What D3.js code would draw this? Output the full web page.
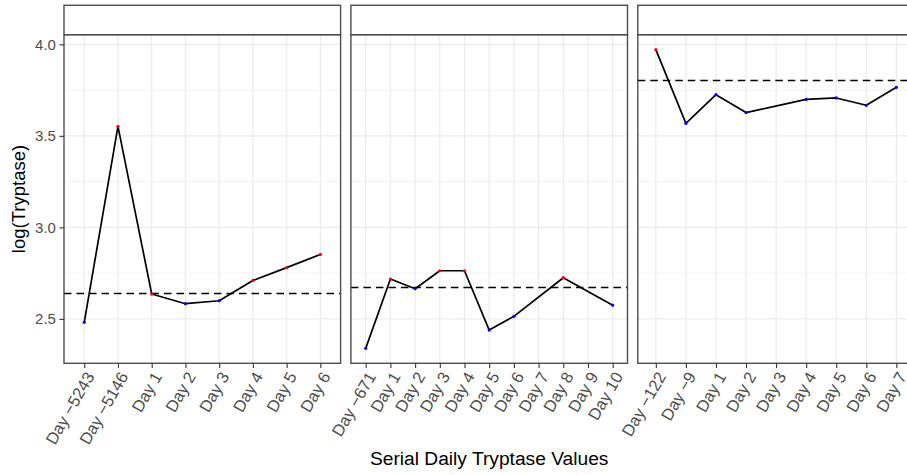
<!DOCTYPE html>
<html>
<head>
<meta charset="utf-8">
<script src="https://cdn.jsdelivr.net/npm/d3@7"></script>
<style>
  html, body { margin: 0; padding: 0; background: #fff; }
  svg { display: block; font-family: "Liberation Sans", Arial, Helvetica, sans-serif; }
</style>
</head>
<body>
<svg id="chart" width="907" height="475"></svg>
<script>
// ---------- DATA ----------
const panel1Days   = ["Day \u22125243", "Day \u22125146", "Day 1", "Day 2", "Day 3", "Day 4", "Day 5", "Day 6"];
const panel1Values = [2.481, 3.552, 2.636, 2.583, 2.599, 2.710, 2.780, 2.852];
const panel1Level  = ["low", "high", "high", "low", "low", "high", "high", "high"];
const panel1Baseline = 2.639;

const panel2Days   = ["Day \u2212671", "Day 1", "Day 2", "Day 3", "Day 4", "Day 5", "Day 6", "Day 7", "Day 8", "Day 9", "Day 10"];
const panel2Values = [2.339, 2.718, 2.665, 2.763, 2.763, 2.439, 2.514, null, 2.725, null, 2.575];
const panel2Level  = ["low", "high", "low", "high", "high", "low", "low", null, "high", null, "low"];
const panel2Baseline = 2.672;

const panel3Days   = ["Day \u2212122", "Day \u22129", "Day 1", "Day 2", "Day 3", "Day 4", "Day 5", "Day 6", "Day 7"];
const panel3Values = [3.971, 3.568, 3.725, 3.627, null, 3.699, 3.707, 3.667, 3.765];
const panel3Level  = ["high", "low", "low", "low", null, "low", "low", "low", "low"];
const panel3Baseline = 3.803;

const yTickValues = [2.5, 3.0, 3.5, 4.0];
const yMinorValues = [2.25, 2.75, 3.25, 3.75, 4.25];
const xTitle = "Serial Daily Tryptase Values";
const yTitle = "log(Tryptase)";

// ---------- LAYOUT ----------
const panels = [
  {days: panel1Days, values: panel1Values, level: panel1Level, base: panel1Baseline},
  {days: panel2Days, values: panel2Values, level: panel2Level, base: panel2Baseline},
  {days: panel3Days, values: panel3Values, level: panel3Level, base: panel3Baseline}
];
const levelColor = {high: "#FF0000", low: "#0000FF"};

const stripTop = 5.3, stripBottom = 34.7;
const panelTop = 34.7, panelBottom = 363.3;
const panelLeft0 = 64, panelW = 276.6, panelGap = 10.3;

const svg = d3.select("#chart");

// shared y scale with 5% expansion
const allVals = panels.flatMap(p => p.values.filter(v => v != null));
const [vmin, vmax] = d3.extent(allVals);
const ex = (vmax - vmin) * 0.05;
const y = d3.scaleLinear().domain([vmin - ex, vmax + ex]).range([panelBottom, panelTop]);

const tickColor = "#4D4D4D";
const textColor = "#4D4D4D";

panels.forEach((p, i) => {
  const left = panelLeft0 + i * (panelW + panelGap);
  const right = left + panelW;
  const x = d3.scalePoint().domain(p.days).range([left, right]).padding(0.6);
  const g = svg.append("g");

  g.append("rect").attr("x", left).attr("y", panelTop).attr("width", panelW)
    .attr("height", panelBottom - panelTop).attr("fill", "#fff");

  g.selectAll(".ymin").data(yMinorValues.filter(v => v > y.domain()[0] && v < y.domain()[1]))
    .enter().append("line")
    .attr("x1", left).attr("x2", right)
    .attr("y1", d => y(d)).attr("y2", d => y(d))
    .attr("stroke", "#EBEBEB").attr("stroke-width", 0.6);
  g.selectAll(".ymaj").data(yTickValues).enter().append("line")
    .attr("x1", left).attr("x2", right)
    .attr("y1", d => y(d)).attr("y2", d => y(d))
    .attr("stroke", "#EBEBEB").attr("stroke-width", 1.2);
  g.selectAll(".xmaj").data(p.days).enter().append("line")
    .attr("x1", d => x(d)).attr("x2", d => x(d))
    .attr("y1", panelTop).attr("y2", panelBottom)
    .attr("stroke", "#EBEBEB").attr("stroke-width", 1.2);

  g.append("line").attr("x1", left).attr("x2", right)
    .attr("y1", y(p.base)).attr("y2", y(p.base))
    .attr("stroke", "#000").attr("stroke-width", 1.5)
    .attr("stroke-dasharray", "7.5,5");

  const pts = p.days.map((d, j) => ({day: d, v: p.values[j], lvl: p.level[j]}))
    .filter(o => o.v != null);
  const line = d3.line().x(o => x(o.day)).y(o => y(o.v));
  g.append("path").datum(pts).attr("d", line)
    .attr("fill", "none").attr("stroke", "#000").attr("stroke-width", 1.7)
    .attr("stroke-linejoin", "round");

  g.selectAll(".pt").data(pts).enter().append("circle")
    .attr("cx", o => x(o.day)).attr("cy", o => y(o.v)).attr("r", 1.6)
    .attr("fill", o => levelColor[o.lvl]);

  g.append("rect").attr("x", left).attr("y", panelTop).attr("width", panelW)
    .attr("height", panelBottom - panelTop).attr("fill", "none")
    .attr("stroke", tickColor).attr("stroke-width", 1.4);

  g.append("rect").attr("x", left).attr("y", stripTop).attr("width", panelW)
    .attr("height", stripBottom - stripTop).attr("fill", "#fff")
    .attr("stroke", tickColor).attr("stroke-width", 1.4);

  const xa = svg.append("g").attr("transform", `translate(0,${panelBottom})`)
    .call(d3.axisBottom(x).tickSize(4.6).tickPadding(0));
  xa.select(".domain").remove();
  xa.selectAll(".tick line").attr("stroke", "#333").attr("stroke-width", 1.1);
  xa.selectAll(".tick text")
    .attr("fill", textColor).attr("font-size", "16.5px")
    .attr("y", 0).attr("dy", "0.72em")
    .attr("text-anchor", "end")
    .attr("transform", "translate(0,7) rotate(-60)");

  if (i === 0) {
    const ya = svg.append("g").attr("transform", `translate(${left},0)`)
      .call(d3.axisLeft(y).tickValues(yTickValues).tickFormat(d3.format(".1f")).tickSize(4.6).tickPadding(3.5));
    ya.select(".domain").remove();
    ya.selectAll(".tick line").attr("stroke", "#333").attr("stroke-width", 1.1);
    ya.selectAll(".tick text").attr("fill", textColor).attr("font-size", "15px");
  }
});

const plotCenterX = panelLeft0 + (3 * panelW + 2 * panelGap) / 2;
svg.append("text").attr("x", plotCenterX).attr("y", 465)
  .attr("text-anchor", "middle").attr("font-size", "19.2px").attr("fill", "#000")
  .text(xTitle);
svg.append("text")
  .attr("transform", `translate(25,${(panelTop + panelBottom) / 2}) rotate(-90)`)
  .attr("text-anchor", "middle").attr("font-size", "18.5px").attr("fill", "#000")
  .text(yTitle);
</script>
</body>
</html>
